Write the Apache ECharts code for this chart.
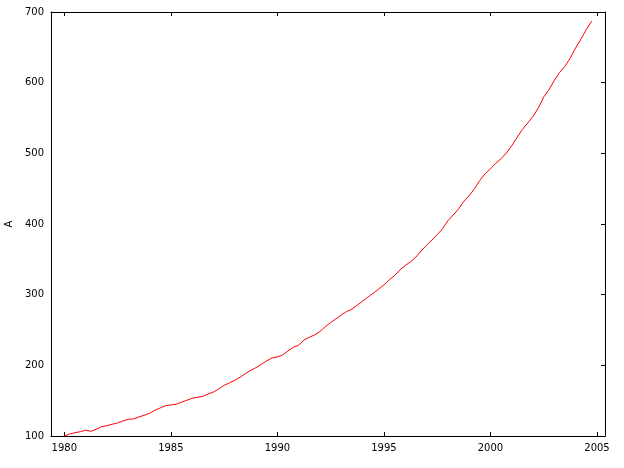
<!DOCTYPE html>
<html>
<head>
<meta charset="utf-8">
<script src="https://cdn.jsdelivr.net/npm/echarts@6/dist/echarts.min.js"></script>
<style>
html,body{margin:0;padding:0;background:#fff;}
#chart{width:624px;height:468px;}
</style>
</head>
<body>
<div id="chart"></div>
<script>
// Quarterly series, first quarter of 1980 to last quarter of 2004
const startYear = 1980;
const values = [
  100, 102.8, 104.7, 106.1, 108.1, 106.7, 109.5, 113.2, 114.6, 116.6,
  118.4, 121.3, 123.7, 124.1, 127, 129.3, 132.2, 136.4, 139.7, 143,
  144, 145, 147.8, 150.6, 153.4, 154.8, 156.2, 159.5, 162.3, 166.6,
  171.8, 175.1, 178.9, 183.2, 188.3, 193, 196.8, 201.6, 206.3, 210.5,
  211.9, 214.8, 220.4, 225.6, 228.5, 236, 239.8, 243.1, 247.8, 254.9,
  260.5, 265.8, 271.4, 276.1, 279.5, 285.2, 290.8, 296.5, 302.2, 307.8,
  313.9, 321, 327, 335, 341.3, 346.5, 353.2, 362, 370.1, 377.2,
  384.8, 393.3, 404.6, 412.7, 421.2, 432, 440, 450, 461.7, 471.2,
  478, 486, 492.5, 500.5, 510.8, 522.6, 533.9, 543, 552.4, 564.3,
  579.9, 590.2, 603.4, 614.7, 623.2, 635.1, 649.3, 662, 675.2, 687
];
const xTicks = [1980, 1985, 1990, 1995, 2000, 2005];
const yTicks = [100, 200, 300, 400, 500, 600, 700];
const yName = 'A';

const data = values.map((v, i) => [startYear + i / 4, v]);

const chart = echarts.init(document.getElementById('chart'), null, {renderer: 'canvas'});
const font = {fontFamily: 'DejaVu Sans', fontSize: 10, color: '#000'};
chart.setOption({
  animation: false,
  backgroundColor: '#fff',
  grid: {left: 51, right: 19, top: 12, bottom: 32, containLabel: false, outerBoundsMode: 'none'},
  xAxis: [
    {
      type: 'value', position: 'bottom', min: 1979.375, max: 2005.375,
      axisLine: {show: true, onZero: false, lineStyle: {color: '#000', width: 1}},
      axisTick: {show: true, inside: true, length: 4, customValues: xTicks, lineStyle: {color: '#000'}},
      axisLabel: Object.assign({show: true, margin: 7, customValues: xTicks, formatter: v => String(v)}, font),
      splitLine: {show: false}
    },
    {
      type: 'value', position: 'top', min: 1979.375, max: 2005.375,
      axisLine: {show: true, onZero: false, lineStyle: {color: '#000', width: 1}},
      axisTick: {show: true, inside: true, length: 4, customValues: xTicks, lineStyle: {color: '#000'}},
      axisLabel: {show: false},
      splitLine: {show: false}
    }
  ],
  yAxis: [
    {
      type: 'value', position: 'left', min: 100, max: 700,
      name: yName, nameLocation: 'middle', nameGap: 36, nameRotate: 90,
      nameTextStyle: font,
      axisLine: {show: true, onZero: false, lineStyle: {color: '#000', width: 1}},
      axisTick: {show: false},
      axisLabel: Object.assign({show: true, margin: 7, customValues: yTicks}, font),
      splitLine: {show: false}
    },
    {
      type: 'value', position: 'right', min: 100, max: 700,
      axisLine: {show: true, onZero: false, lineStyle: {color: '#000', width: 1}},
      axisTick: {show: true, inside: true, length: 4, customValues: yTicks, lineStyle: {color: '#000'}},
      axisLabel: {show: false},
      splitLine: {show: false}
    }
  ],
  series: [{
    type: 'line', xAxisIndex: 0, yAxisIndex: 0, data: data,
    showSymbol: false, symbol: 'none',
    lineStyle: {color: '#ff0000', width: 1},
    itemStyle: {color: '#ff0000'}
  }]
});
</script>
</body>
</html>
